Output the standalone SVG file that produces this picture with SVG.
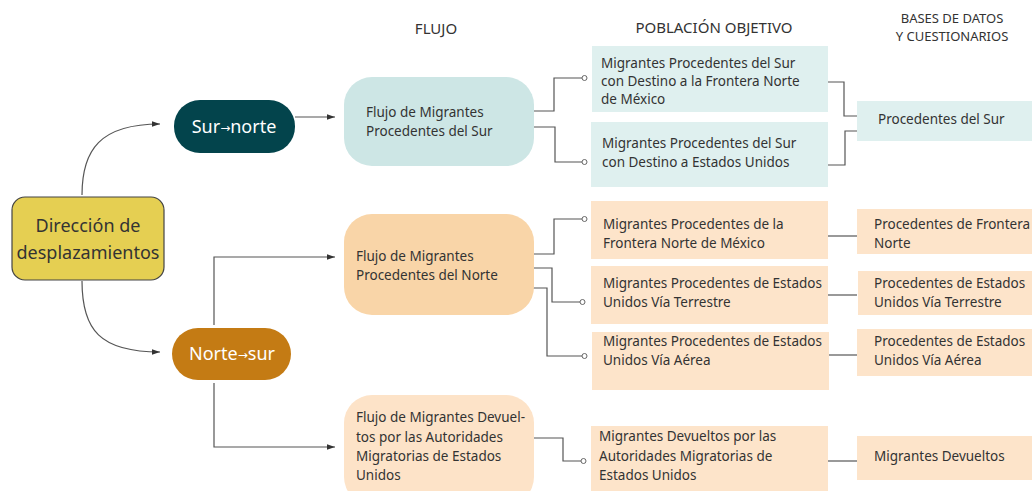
<svg xmlns="http://www.w3.org/2000/svg" width="1032" height="491" viewBox="0 0 1032 491">
<style>
text{font-family:"Noto Sans","Open Sans",sans-serif;fill:#333}
.t{font-size:13.5px}
.h{font-size:15px;text-anchor:middle}
.hs{font-size:13px;text-anchor:middle}
.big{font-size:18px;text-anchor:middle}
.w{fill:#fff}
.ar{font-family:"DejaVu Sans",sans-serif;font-size:12px}
.c{fill:none;stroke:#555;stroke-width:1.2}
.dot{fill:#fff;stroke:#666;stroke-width:1}
.teal{fill:#dff0ef}
.peach{fill:#fde4ca}
</style>
<defs>
<marker id="ar" viewBox="0 0 10 10" refX="10" refY="5" markerWidth="7" markerHeight="7" orient="auto"><path d="M0,1.5 L10,5 L0,8.5 z" fill="#333"/></marker>
</defs>
<rect width="1032" height="491" fill="#fff"/>
<g id="headers">
<text class="h" x="436" y="34">FLUJO</text>
<text class="h" x="714" y="33">POBLACIÓN OBJETIVO</text>
<text class="hs" x="952" y="23">BASES DE DATOS</text>
<text class="hs" x="952" y="41">Y CUESTIONARIOS</text>
</g>
<g id="connectors">
<path class="c" d="M82,195 C82,150 100,124 160,124" marker-end="url(#ar)"/>
<path class="c" d="M82,281 C82,330 100,352 160,352" marker-end="url(#ar)"/>
<path class="c" d="M295,117 L335,117" marker-end="url(#ar)"/>
<path class="c" d="M214,325 L214,257 L335,257" marker-end="url(#ar)"/>
<path class="c" d="M214,383 L214,447 L335,447" marker-end="url(#ar)"/>
<path class="c" d="M533,111 L554,111 L554,78 L582,78"/>
<path class="c" d="M533,127 L555,127 L555,162 L582,162"/>
<path class="c" d="M828,82 L844,82 L844,116 L857,116"/>
<path class="c" d="M828,165 L845,165 L845,131 L857,131"/>
<path class="c" d="M533,254 L554,254 L554,219 L582,219"/>
<path class="c" d="M533,268 L552,268 L552,302 L580,302"/>
<path class="c" d="M533,288 L547,288 L547,356 L582,356"/>
<path class="c" d="M533,438 L563,438 L563,461 L581,461"/>
<path class="c" d="M828,236 L857,236"/>
<path class="c" d="M828,295 L857,295"/>
<path class="c" d="M828,355 L857,355"/>
<path class="c" d="M828,461 L857,461"/>
<circle class="dot" cx="584.5" cy="78" r="2.5"/>
<circle class="dot" cx="584.5" cy="162" r="2.5"/>
<circle class="dot" cx="584.5" cy="219" r="2.5"/>
<circle class="dot" cx="582.5" cy="302" r="2.5"/>
<circle class="dot" cx="584.5" cy="356" r="2.5"/>
<circle class="dot" cx="583.5" cy="461" r="2.5"/>
</g>
<g id="direccion">
<rect x="12" y="197" width="152" height="83" rx="13" fill="#e5cf52" stroke="#444" stroke-width="1.2"/>
<text class="big" x="88" y="232">Dirección de</text>
<text class="big" x="88" y="259">desplazamientos</text>
</g>
<g id="surnorte">
<rect x="174" y="100" width="121" height="53" rx="26" fill="#03444c"/>
<text class="big w" x="234" y="133">Sur<tspan class="ar" dy="-1">→</tspan><tspan dy="1">norte</tspan></text>
</g>
<g id="nortesur">
<rect x="172" y="328" width="119" height="52" rx="26" fill="#c47b14"/>
<text class="big w" x="232" y="360">Norte<tspan class="ar" dy="-1">→</tspan><tspan dy="1">sur</tspan></text>
</g>
<g id="flujo-sur">
<rect x="344" y="77" width="190" height="89" rx="28" fill="#cde6e5"/>
<text class="t" x="366" y="117">Flujo de Migrantes</text>
<text class="t" x="366" y="136">Procedentes del Sur</text>
</g>
<g id="flujo-norte">
<rect x="344" y="214" width="190" height="101" rx="28" fill="#f9d5a8"/>
<text class="t" x="356" y="261">Flujo de Migrantes</text>
<text class="t" x="356" y="280">Procedentes del Norte</text>
</g>
<g id="flujo-devueltos">
<rect x="344" y="395" width="190" height="110" rx="28" fill="#fde3c8"/>
<text class="t" x="356" y="422">Flujo de Migrantes Devuel-</text>
<text class="t" x="356" y="442">tos por las Autoridades</text>
<text class="t" x="356" y="461">Migratorias de Estados</text>
<text class="t" x="356" y="480">Unidos</text>
</g>
<g id="pob-sur-frontera">
<rect class="teal" x="592" y="46" width="236" height="66"/>
<text class="t" x="601" y="68">Migrantes Procedentes del Sur</text>
<text class="t" x="601" y="86">con Destino a la Frontera Norte</text>
<text class="t" x="601" y="104">de México</text>
</g>
<g id="pob-sur-eu">
<rect class="teal" x="591" y="122" width="237" height="65"/>
<text class="t" x="602" y="148">Migrantes Procedentes del Sur</text>
<text class="t" x="602" y="167">con Destino a Estados Unidos</text>
</g>
<g id="pob-frontera-norte">
<rect class="peach" x="591" y="201" width="237" height="58"/>
<text class="t" x="603" y="229">Migrantes Procedentes de la</text>
<text class="t" x="603" y="248">Frontera Norte de México</text>
</g>
<g id="pob-eu-terrestre">
<rect class="peach" x="591" y="266" width="237" height="58"/>
<text class="t" x="603" y="288">Migrantes Procedentes de Estados</text>
<text class="t" x="603" y="307">Unidos Vía Terrestre</text>
</g>
<g id="pob-eu-aerea">
<rect class="peach" x="592" y="332" width="237" height="58"/>
<text class="t" x="603" y="346">Migrantes Procedentes de Estados</text>
<text class="t" x="603" y="365">Unidos Vía Aérea</text>
</g>
<g id="pob-devueltos">
<rect class="peach" x="591" y="426" width="237" height="65"/>
<text class="t" x="599" y="441">Migrantes Devueltos por las</text>
<text class="t" x="599" y="461">Autoridades Migratorias de</text>
<text class="t" x="599" y="480">Estados Unidos</text>
</g>
<g id="bd-sur">
<rect class="teal" x="857" y="101" width="175" height="40"/>
<text class="t" x="878" y="124">Procedentes del Sur</text>
</g>
<g id="bd-frontera">
<rect class="peach" x="857" y="209" width="175" height="45"/>
<text class="t" x="874" y="229">Procedentes  de Frontera</text>
<text class="t" x="874" y="248">Norte</text>
</g>
<g id="bd-terrestre">
<rect class="peach" x="858" y="271" width="174" height="44"/>
<text class="t" x="874" y="288">Procedentes de Estados</text>
<text class="t" x="874" y="307">Unidos Vía Terrestre</text>
</g>
<g id="bd-aerea">
<rect class="peach" x="857" y="329" width="175" height="47"/>
<text class="t" x="874" y="346">Procedentes de Estados</text>
<text class="t" x="874" y="365">Unidos Vía Aérea</text>
</g>
<g id="bd-devueltos">
<rect class="peach" x="857" y="436" width="175" height="44"/>
<text class="t" x="874" y="461">Migrantes Devueltos</text>
</g>
</svg>
